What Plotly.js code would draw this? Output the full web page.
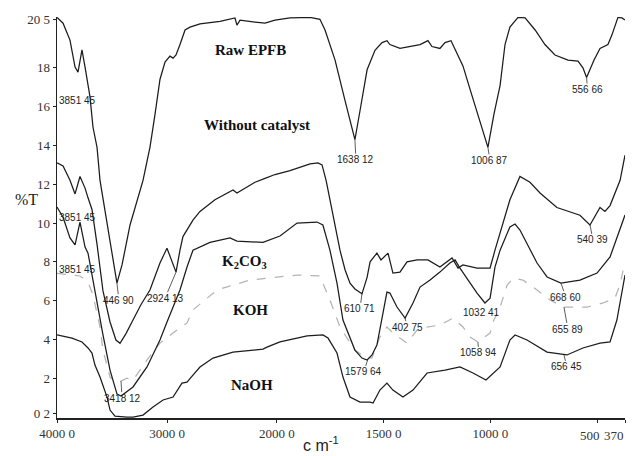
<!DOCTYPE html>
<html><head><meta charset="utf-8">
<script src="https://cdn.plot.ly/plotly-3.0.1.min.js"></script>
<style>html,body{margin:0;padding:0;background:#fff}#chart{width:634px;height:456px}</style>
</head><body><div id="chart"></div>
<script>
// ---- data (wavenumber cm-1, %T) ----
const rawWave = [4000,3945,3882,3836,3809,3773,3745,3718,3700,3673,3636,3609,3564,3518,3482,3455,3409,3336,3218,3182,3155,3109,3064,3018,2973,2945,2918,2882,2836,2791,2700,2518,2382,2364,2336,2200,2109,2018,1939,1845,1799,1775,1728,1681,1649,1635,1611,1578,1541,1508,1485,1471,1424,1377,1330,1293,1274,1237,1213,1185,1152,1129,1096,1059,1035,1012,984,955,932,909,871,838,791,745,698,637,590,567,550,515,487,450,431,403,384,370];
const rawT    = [20.6,20.3,19.43,18.04,17.78,18.92,18.04,17.0,16.5,14.95,13.9,12.2,10.67,9.1,7.84,6.9,7.84,9.9,12.2,13.25,13.9,15.6,17.4,18.3,18.6,18.5,18.66,19.2,19.95,20.1,20.26,20.4,20.57,20.2,20.46,20.36,20.3,20.46,20.57,20.6,20.5,19.95,18.4,16.3,14.8,14.3,15.8,17.9,18.9,19.3,19.4,19.2,19.0,19.1,19.2,19.4,19.1,19.0,19.3,19.4,18.66,18.1,16.9,15.6,14.8,13.9,15.6,17.1,19.2,20.1,20.6,20.57,19.95,19.2,18.66,18.4,18.35,18.0,17.5,18.4,19.0,19.2,19.7,20.6,20.57,20.46];

const noCatWave = [4000,3945,3882,3836,3791,3745,3718,3682,3636,3582,3518,3464,3427,3373,3309,3236,3155,3064,3000,2964,2918,2882,2855,2764,2700,2564,2400,2364,2291,2200,2109,2018,1939,1845,1808,1789,1770,1742,1705,1681,1658,1635,1602,1578,1564,1532,1513,1480,1457,1424,1391,1344,1293,1237,1180,1152,1129,1063,1002,979,909,862,815,768,689,581,534,487,464,440,393,370];
const noCatT    = [13.1,12.94,12.2,11.5,12.4,11.8,11.3,10.7,8.9,6.5,4.9,3.97,3.8,4.3,5.0,5.8,6.55,7.94,8.7,8.2,7.47,8.6,9.3,10.15,10.6,11.2,11.7,11.55,11.8,12.1,12.3,12.5,12.7,13.05,13.1,13.0,12.2,10.67,8.6,7.58,6.9,6.6,6.35,7.2,8.0,8.45,8.1,8.45,7.42,7.47,8.0,8.1,8.1,7.73,8.2,7.68,7.84,7.68,7.68,8.6,11.2,12.4,12.1,11.55,10.8,10.4,9.9,10.8,10.6,10.9,12.2,13.5];

const k2co3Wave = [4000,3945,3882,3836,3791,3745,3718,3682,3636,3582,3518,3455,3418,3309,3182,3064,3000,2927,2882,2818,2764,2609,2427,2364,2127,1986,1906,1813,1785,1752,1719,1691,1635,1602,1578,1555,1532,1485,1471,1438,1400,1363,1330,1283,1237,1190,1166,1143,1096,1063,1026,1002,979,955,909,885,862,829,782,735,670,581,501,440,403,370];
const k2co3T    = [10.82,10.3,9.23,8.87,10.05,8.76,8.45,7.32,6.03,4.23,2.42,1.19,1.08,1.55,2.58,3.97,4.9,5.88,6.55,7.73,8.6,9.0,9.23,9.07,9.0,9.33,10.0,10.05,9.9,8.6,6.9,5.0,3.45,3.04,2.94,3.2,3.71,6.44,6.39,5.67,5.1,5.88,6.7,7.06,7.47,7.94,8.1,7.68,6.9,6.39,5.88,6.13,7.73,8.6,9.8,9.95,9.64,8.97,7.94,7.22,6.9,7.06,7.42,8.25,9.38,10.41];

const kohWave = [4000,3791,3718,3673,3609,3582,3518,3455,3364,3309,3182,3064,2945,2818,2764,2545,2245,1906,1799,1752,1705,1635,1588,1555,1518,1485,1457,1391,1344,1297,1237,1176,1129,1096,1059,1035,1002,988,969,955,922,894,848,782,721,656,548,473,417,394,370];
const kohT    = [7.4,7.27,6.96,6.29,4.64,3.45,2.06,1.75,2.0,1.9,2.94,3.81,4.33,4.85,5.52,6.55,7.06,7.32,7.27,6.03,4.64,3.45,3.09,3.04,4.12,4.64,4.33,3.81,4.48,4.64,4.74,5.1,4.64,4.12,3.87,4.07,4.33,4.9,5.36,5.67,6.8,7.16,7.06,6.55,6.03,5.67,5.67,5.88,6.13,6.8,8.0];

const naohWave = [4000,3864,3773,3718,3682,3655,3609,3545,3518,3473,3364,3309,3218,3127,3036,2945,2864,2818,2764,2700,2582,2400,2127,2091,1986,1859,1785,1761,1719,1691,1658,1611,1564,1550,1518,1485,1457,1410,1363,1297,1213,1143,1082,1021,955,909,885,829,735,642,567,487,440,408,370];
const naohT    = [4.23,4.07,3.87,3.56,3.3,2.68,2.06,1.03,0.36,0.05,0.0,0.0,0.1,0.52,0.88,1.03,1.75,1.8,2.16,2.58,3.04,3.35,3.5,3.6,3.87,4.18,4.23,4.07,3.3,2.06,1.03,0.77,0.77,0.72,1.39,1.75,1.39,1.03,1.39,2.27,2.42,2.58,2.27,1.91,2.58,3.97,4.23,3.97,3.35,3.2,3.56,3.81,3.87,5.0,7.32];

const xTickWaves = [4000,3000,2000,1500,1000,500,370];
const xTickText  = ["4000 0","3000 0","2000 0","1500 0","1000 0","500","370"];
const yTickVals  = [20.5,18,16,14,12,10,8,6,4,2,0.2];
const yTickText  = ["20 5","18","16","14","12","10","8","6","4","2","0 2"];

const seriesNames = ["Raw EPFB","Without catalyst","K<sub>2</sub>CO<sub>3</sub>","KOH","NaOH"];
const seriesLabelWave = [2245,2182,2291,2245,2227];
const seriesLabelT    = [18.92,15.05,7.99,5.52,1.65];

const peakText = ["446 90","2924 13","1638 12","1006 87","556 66","540 39","610 71","402 75","1032 41","668 60","655 89","1058 94","656 45","1579 64","3418 12"];
const peakWave = [3455,2918,1635,1012,550,534,1602,1400,1026,670,656,1059,656,1575,3418];
const peakT    = [6.9,7.47,14.3,13.9,17.5,9.9,6.35,5.1,5.88,6.9,5.67,3.87,3.2,2.95,1.85];
const noteText = ["3851 45","3851 45","3851 45"];
const noteT    = [16.34,10.3,7.58];

// ---- style / scale ----
const peakDx = [2,-11,1,2,1,3,-2,2,-3,5,4,1,3,-4,1];
const peakDy = [17,26,20,13,12,15,15,9,10,14,22,11,12,12,17];
const BREAK = 2000, EXPAND = 1.941;
function toAxis(w){ return w >= BREAK ? 4000 - w : (4000 - BREAK) + (BREAK - w) * EXPAND; }

const ink = '#1c1c1c';
function tr(wv, t, color, dash){
  return {x: wv.map(toAxis), y: t, mode:'lines', hoverinfo:'skip', cliponaxis:false,
          line:{color:color, width:1.25, dash:dash||'solid'}};
}
const data = [
  tr(naohWave, naohT, ink),
  tr(kohWave, kohT, '#b4b4b4', 'dash'),
  tr(k2co3Wave, k2co3T, ink),
  tr(noCatWave, noCatT, ink),
  tr(rawWave, rawT, ink)
];

const tickFont = {family:'Liberation Serif, serif', size:13, color:'#333'};
const annotations = [];
seriesNames.forEach((s,i)=>annotations.push({x:toAxis(seriesLabelWave[i]), y:seriesLabelT[i], text:'<b>'+s+'</b>',
  showarrow:false, font:{family:'Liberation Serif, serif', size:15, color:'#111'}}));
peakText.forEach((s,i)=>annotations.push({x:toAxis(peakWave[i]), y:peakT[i], text:s, showarrow:true,
  arrowhead:0, arrowwidth:0.8, arrowcolor:'#333', standoff:0, ax:peakDx[i], ay:peakDy[i],
  font:{family:'Liberation Sans, sans-serif', size:10, color:'#222'}, borderpad:0}));
noteText.forEach((s,i)=>annotations.push({x:toAxis(4000), y:noteT[i], text:s, showarrow:false, xanchor:'left',
  font:{family:'Liberation Sans, sans-serif', size:10, color:'#222'}}));
annotations.push({xref:'paper', yref:'paper', x:-0.053, y:0.545, xanchor:'center', yanchor:'middle', text:'%T', showarrow:false,
  font:{family:'Liberation Serif, serif', size:16, color:'#222'}});
annotations.push({xref:'paper', yref:'paper', x:0.465, y:-0.066, xanchor:'center', yanchor:'middle', text:'c m<sup>-1</sup>', showarrow:false,
  font:{family:'Liberation Sans, sans-serif', size:16, color:'#222'}});

const axisCommon = {showline:true, linecolor:'#222', linewidth:1.5, ticks:'outside', ticklen:3, tickcolor:'#222',
  showgrid:false, zeroline:false, tickfont:tickFont, tickmode:'array'};
const xEnd = toAxis(370);
// the two right-most tick labels are squeezed together, so they are drawn as annotations
const shownText = xTickText.slice(0,5).concat(["",""]);
const layout = {
  width:634, height:456, margin:{l:57, r:9, t:17, b:38},
  paper_bgcolor:'#fff', plot_bgcolor:'#fff', showlegend:false,
  xaxis: Object.assign({}, axisCommon, {range:[0, xEnd], tickvals:xTickWaves.map(toAxis), ticktext:shownText}),
  yaxis: Object.assign({}, axisCommon, {range:[-0.05, 20.62], tickvals:yTickVals, ticktext:yTickText}),
  annotations: annotations
};
annotations.push({x:toAxis(xTickWaves[5]), y:0, yref:'paper', xshift:-7, yshift:-17, xanchor:'center', yanchor:'middle',
  text:xTickText[5], showarrow:false, font:tickFont});
annotations.push({x:xEnd, y:0, yref:'paper', xshift:1, yshift:-17, xanchor:'right', yanchor:'middle',
  text:xTickText[6], showarrow:false, font:tickFont});
Plotly.newPlot('chart', data, layout, {displayModeBar:false, staticPlot:true});
</script></body></html>
